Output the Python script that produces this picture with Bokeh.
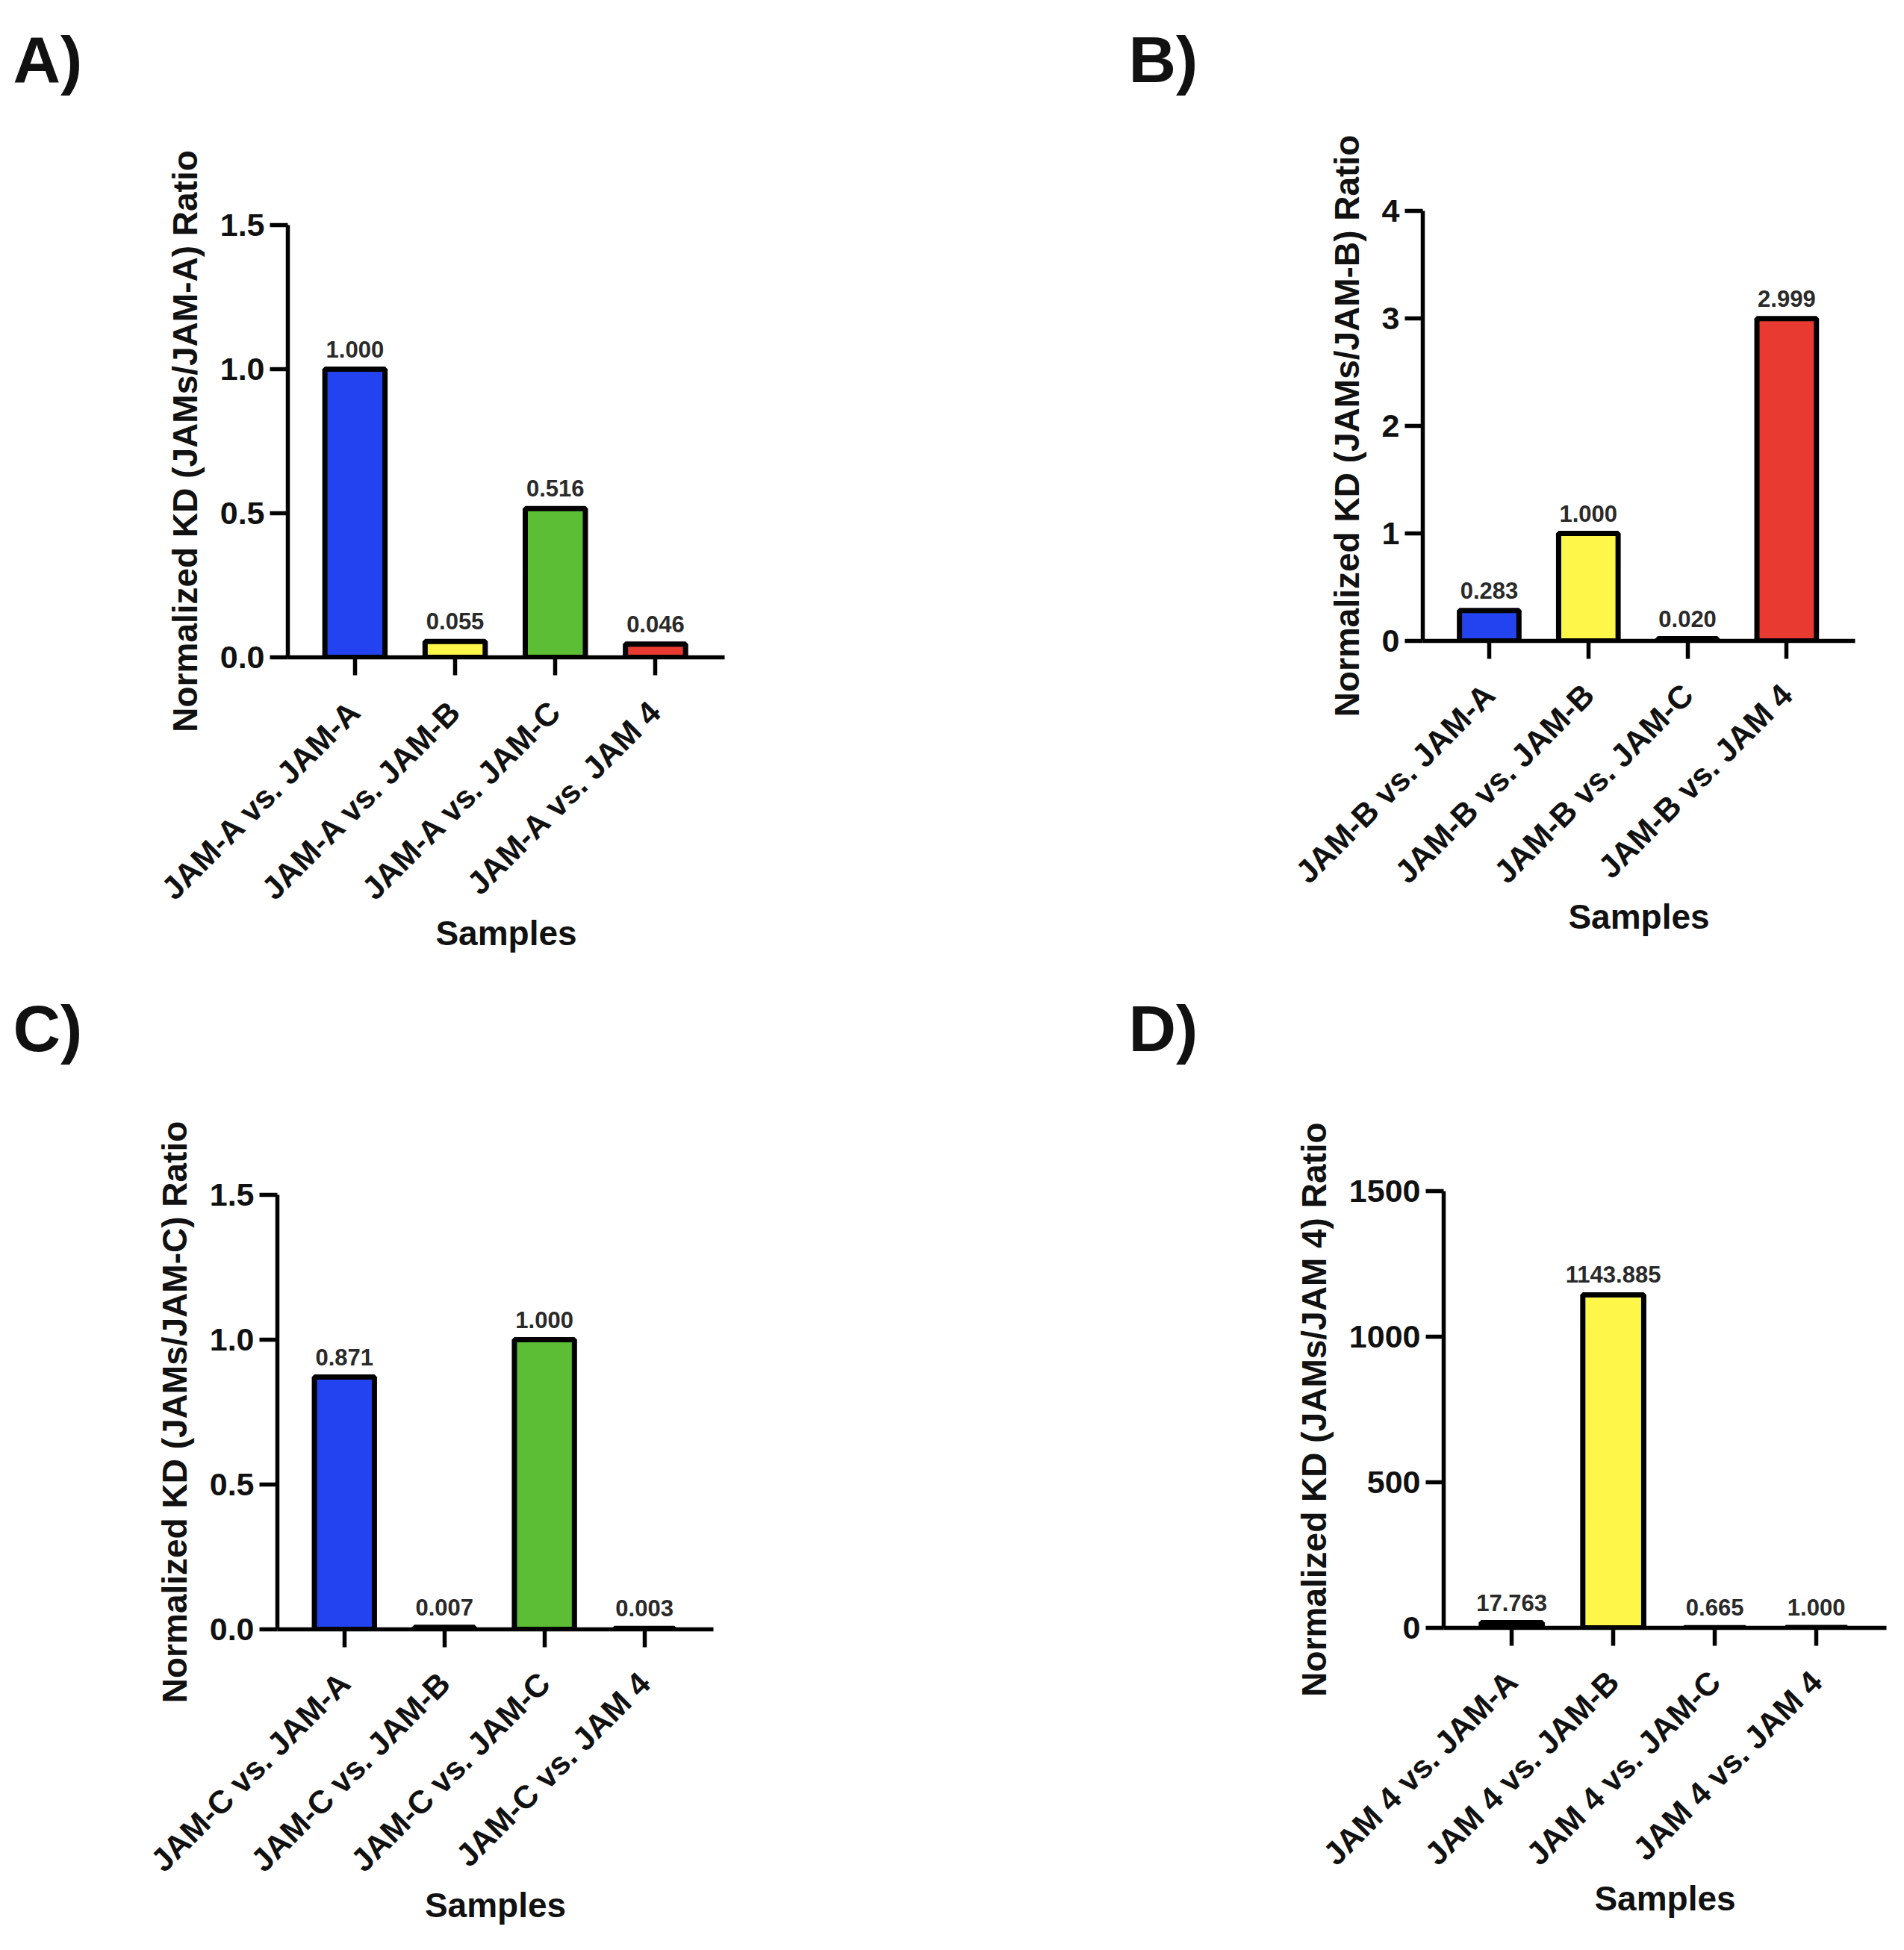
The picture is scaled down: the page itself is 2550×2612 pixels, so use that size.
import math

from bokeh.core.properties import value
from bokeh.embed import file_html
from bokeh.layouts import column, row
from bokeh.models import ColumnDataSource, FixedTicker, Label, PrintfTickFormatter, Range1d
from bokeh.plotting import figure
from bokeh.resources import INLINE

# bar colours, same order in every panel
colors = ["#2443F0", "#FFF64A", "#5CBE34", "#E83A30"]

a_samples = ["JAM-A vs. JAM-A", "JAM-A vs. JAM-B", "JAM-A vs. JAM-C", "JAM-A vs. JAM 4"]
a_values = [1.000, 0.055, 0.516, 0.046]

b_samples = ["JAM-B vs. JAM-A", "JAM-B vs. JAM-B", "JAM-B vs. JAM-C", "JAM-B vs. JAM 4"]
b_values = [0.283, 1.000, 0.020, 2.999]

c_samples = ["JAM-C vs. JAM-A", "JAM-C vs. JAM-B", "JAM-C vs. JAM-C", "JAM-C vs. JAM 4"]
c_values = [0.871, 0.007, 1.000, 0.003]

d_samples = ["JAM 4 vs. JAM-A", "JAM 4 vs. JAM-B", "JAM 4 vs. JAM-C", "JAM 4 vs. JAM 4"]
d_values = [17.763, 1143.885, 0.665, 1.000]

W, H = 1267, 1298
HL = 150          # height of the strip that carries the panel letters
FONT = "Liberation Sans"


def letter_strip(left_letter, right_letter):
    # full-width strip, no axes, so its frame is the whole canvas
    s = figure(width=2 * W, height=HL, x_axis_location=None, y_axis_location=None,
               min_border=0, output_backend="svg", toolbar_location=None, tools="")
    s.outline_line_color = None
    s.grid.visible = False
    for txt, x in ((left_letter, 17), (right_letter, W + 244)):
        s.add_layout(Label(x=x, y=HL - 29, x_units="screen", y_units="screen", text=txt,
                           text_font=FONT, text_font_style="bold", text_font_size="88px",
                           text_baseline="top", text_color="#111111"))
    return s


def panel(samples, values, yticks, yfmt, ylabel, left, right, top, bottom):
    p = figure(width=W, height=H - HL, x_range=Range1d(-0.67, 3.69), y_range=Range1d(0, yticks[-1]),
               min_border_left=left, min_border_right=right,
               min_border_top=top - HL, min_border_bottom=bottom,
               output_backend="svg", toolbar_location=None, tools="")
    p.outline_line_color = None
    p.xgrid.visible = False
    p.ygrid.visible = False

    src = ColumnDataSource(dict(
        x=list(range(len(samples))),
        top=values,
        color=colors,
        label=["%.3f" % v for v in values],
    ))
    p.vbar(x="x", top="top", bottom=0, width=0.6, source=src,
           fill_color="color", line_color="black", line_width=7)
    p.text(x="x", y="top", text="label", source=src, y_offset=-16,
           text_align="center", text_baseline="bottom",
           text_font=value(FONT), text_font_style="bold",
           text_font_size="31px", text_color="#2a2a2a")

    p.xaxis.ticker = FixedTicker(ticks=list(range(len(samples))))
    p.xaxis.major_label_overrides = {i: s for i, s in enumerate(samples)}
    p.xaxis.major_label_orientation = math.pi / 4
    p.xaxis.axis_label = "Samples"
    p.xaxis.major_label_standoff = 41
    p.xaxis.axis_label_standoff = -10

    p.yaxis.ticker = FixedTicker(ticks=yticks)
    if yfmt:
        p.yaxis.formatter = PrintfTickFormatter(format=yfmt)
    p.yaxis.axis_label = ylabel
    p.yaxis.major_label_standoff = 7
    p.yaxis.axis_label_standoff = 18

    for ax in (p.xaxis[0], p.yaxis[0]):
        ax.axis_line_width = 5.5
        ax.axis_line_color = "black"
        ax.major_tick_line_width = 5.5
        ax.major_tick_line_color = "black"
        ax.major_tick_out = 24
        ax.major_tick_in = 0
        ax.minor_tick_line_color = None
        ax.major_label_text_font = FONT
        ax.major_label_text_font_style = "bold"
        ax.major_label_text_font_size = "43px"
        ax.major_label_text_color = "#111111"
        ax.axis_label_text_font = FONT
        ax.axis_label_text_font_style = "bold"
        ax.axis_label_text_font_size = "46px"
        ax.axis_label_text_color = "#111111"
    return p


pa = panel(a_samples, a_values, [0, 0.5, 1.0, 1.5], "%.1f",
           "Normalized KD (JAMs/JAM-A) Ratio", 385, 297, 301, 418)
pb = panel(b_samples, b_values, [0, 1, 2, 3, 4], None,
           "Normalized KD (JAMs/JAM-B) Ratio", 638, 50, 282, 440)
pc = panel(c_samples, c_values, [0, 0.5, 1.0, 1.5], "%.1f",
           "Normalized KD (JAMs/JAM-C) Ratio", 371, 312, 302, 414)
pd = panel(d_samples, d_values, [0, 500, 1000, 1500], None,
           "Normalized KD (JAMs/JAM 4) Ratio", 666, 8, 297, 416)

layout = column(
    letter_strip("A)", "B)"),
    row(column(pa), column(pb)),
    letter_strip("C)", "D)"),
    row(column(pc), column(pd)),
)

open("out.html", "w").write(file_html(layout, INLINE))
